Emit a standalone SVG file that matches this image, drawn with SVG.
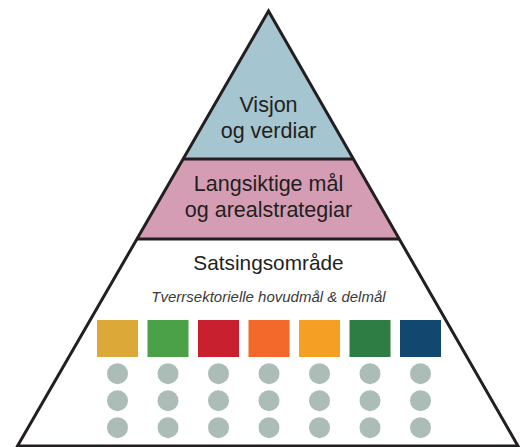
<svg xmlns="http://www.w3.org/2000/svg" width="520" height="447" viewBox="0 0 520 447">
<style>
.lbl{font-family:"Liberation Sans",Arial,sans-serif;font-size:21.5px;fill:#231f20;text-anchor:middle}
.sub{font-family:"Liberation Sans",Arial,sans-serif;font-size:15px;font-style:italic;fill:#3a3a3a;text-anchor:middle}
.dot{fill:#abbdb6}
.edge{fill:none;stroke:#231f20;stroke-width:3;stroke-linejoin:miter}
</style>
<rect width="520" height="447" fill="#ffffff"/>
<g id="tier-vision">
<polygon points="268.5,11 182.7,159 353.8,159" fill="#a5c5d0"/>
<text class="lbl" x="268.5" y="112">Visjon</text>
<text class="lbl" x="268.5" y="138">og verdiar</text>
</g>
<g id="tier-goals">
<polygon points="182.7,159 353.8,159 399.5,239 136.7,239" fill="#d59db3"/>
<text class="lbl" x="268.5" y="191">Langsiktige mål</text>
<text class="lbl" x="268.5" y="217">og arealstrategiar</text>
</g>
<g id="tier-focus">
<polygon points="136.7,239 399.5,239 518,446 17.5,446" fill="#ffffff"/>
<text class="lbl" x="268.5" y="270" style="font-size:20.8px">Satsingsområde</text>
<text class="sub" x="268.5" y="302">Tverrsektorielle hovudmål &amp; delmål</text>
<g id="focus-areas">
<rect x="97" y="320" width="41" height="37" fill="#dca838"/>
<rect x="147.5" y="320" width="41" height="37" fill="#4aa147"/>
<rect x="198" y="320" width="41" height="37" fill="#c92030"/>
<rect x="248.5" y="320" width="41" height="37" fill="#f2692b"/>
<rect x="299" y="320" width="41" height="37" fill="#f69f25"/>
<rect x="349.5" y="320" width="41" height="37" fill="#2e7d45"/>
<rect x="400" y="320" width="41" height="37" fill="#124870"/>
</g>
<g id="goal-dots">
<circle class="dot" cx="117.5" cy="373.7" r="10.5"/><circle class="dot" cx="117.5" cy="400.7" r="10.5"/><circle class="dot" cx="117.5" cy="427.7" r="10.5"/>
<circle class="dot" cx="168" cy="373.7" r="10.5"/><circle class="dot" cx="168" cy="400.7" r="10.5"/><circle class="dot" cx="168" cy="427.7" r="10.5"/>
<circle class="dot" cx="218.5" cy="373.7" r="10.5"/><circle class="dot" cx="218.5" cy="400.7" r="10.5"/><circle class="dot" cx="218.5" cy="427.7" r="10.5"/>
<circle class="dot" cx="269" cy="373.7" r="10.5"/><circle class="dot" cx="269" cy="400.7" r="10.5"/><circle class="dot" cx="269" cy="427.7" r="10.5"/>
<circle class="dot" cx="319.5" cy="373.7" r="10.5"/><circle class="dot" cx="319.5" cy="400.7" r="10.5"/><circle class="dot" cx="319.5" cy="427.7" r="10.5"/>
<circle class="dot" cx="370" cy="373.7" r="10.5"/><circle class="dot" cx="370" cy="400.7" r="10.5"/><circle class="dot" cx="370" cy="427.7" r="10.5"/>
<circle class="dot" cx="420.5" cy="373.7" r="10.5"/><circle class="dot" cx="420.5" cy="400.7" r="10.5"/><circle class="dot" cx="420.5" cy="427.7" r="10.5"/>
</g>
</g>
<g id="connectors">
<line class="edge" x1="182.7" y1="159" x2="353.8" y2="159"/>
<line class="edge" x1="136.7" y1="239" x2="399.5" y2="239"/>
<polygon class="edge" points="268.5,11 518,446 17.5,446"/>
</g>
</svg>
